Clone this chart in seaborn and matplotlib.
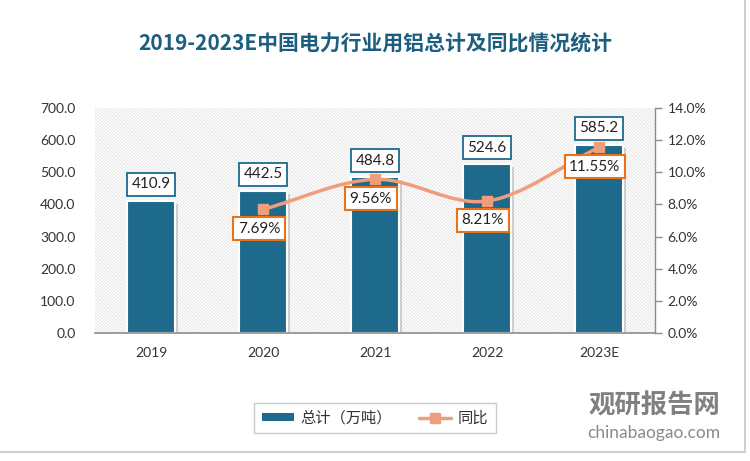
import numpy as np
import pandas as pd
import matplotlib
matplotlib.use("Agg")
import matplotlib.pyplot as plt
import matplotlib.patheffects as pe
from matplotlib.path import Path
from matplotlib.patches import PathPatch, Rectangle, Patch
from matplotlib.lines import Line2D
from matplotlib.ticker import FuncFormatter, MultipleLocator
import seaborn as sns

years = ["2019", "2020", "2021", "2022", "2023E"]
totals = [410.9, 442.5, 484.8, 524.6, 585.2]
growth_years = ["2020", "2021", "2022", "2023E"]
growth = [7.69, 9.56, 8.21, 11.55]

bar_color = "#1D6A8C"
line_color = "#EE9E7B"
label_orange = "#E8731A"
title_color = "#1B5E80"

sns.set_theme(style="white")
plt.rcParams["font.family"] = ["Lato", "Noto Sans CJK SC", "DejaVu Sans"]
plt.rcParams["hatch.color"] = "#E0E0E0"
plt.rcParams["hatch.linewidth"] = 0.6

fig = plt.figure(figsize=(7.5, 4.61), dpi=100)
fig.patch.set_facecolor("white")
ax = fig.add_axes([0.1267, 0.2777, 0.7466, 0.488])

# hatched plot background
ax.add_patch(Rectangle((0, 0), 1, 1, transform=ax.transAxes, facecolor="white",
                       edgecolor="#E0E0E0", hatch="\\" * 10, lw=0, zorder=0))

df = pd.DataFrame({"year": years, "total": totals})
sns.barplot(data=df, x="year", y="total", color=bar_color, width=0.43,
            edgecolor="white", linewidth=1.5, saturation=1, ax=ax, zorder=2)
for p in ax.patches[1:]:
    p.set_path_effects([pe.SimplePatchShadow(offset=(2, -2), shadow_rgbFace="#888888", alpha=0.35),
                        pe.Normal()])

ax.set_ylim(0, 700)
ax.set_xlim(-0.5, 4.5)
ax.yaxis.set_major_locator(MultipleLocator(100))
ax.yaxis.set_major_formatter(FuncFormatter(lambda v, _: f"{v:.1f}"))
ax.set_xlabel("")
ax.set_ylabel("")
ax.tick_params(axis="y", length=0, labelsize=10, colors="#333333", pad=14)
ax.tick_params(axis="x", length=0, labelsize=10, colors="#333333", pad=10)
for s in ["top", "right", "left"]:
    ax.spines[s].set_visible(False)
ax.spines["bottom"].set_color("#8C8C8C")
ax.spines["bottom"].set_linewidth(1.2)

for i, v in enumerate(totals):
    ax.annotate(f"{v:.1f}", (i, v), xytext=(0, 12), textcoords="offset points",
                ha="center", va="center", fontsize=11, color="#222222", zorder=6,
                bbox=dict(boxstyle="square,pad=0.3", fc="white", ec=bar_color, lw=1.3))

ax2 = ax.twinx()
ax2.set_ylim(0, 14)
ax2.yaxis.set_major_locator(MultipleLocator(2))
ax2.yaxis.set_major_formatter(FuncFormatter(lambda v, _: f"{v:.1f}%"))
ax2.tick_params(axis="y", length=5, width=1, colors="#8C8C8C", labelcolor="#333333",
                labelsize=10, direction="out", pad=4)
for s in ["top", "left", "bottom"]:
    ax2.spines[s].set_visible(False)
ax2.spines["right"].set_color("#8C8C8C")
ax2.spines["right"].set_linewidth(1.0)

# smooth line (Catmull-Rom as cubic bezier segments)
gx = np.array([years.index(y) for y in growth_years], dtype=float)
gy = np.array(growth, dtype=float)
pts = np.column_stack([gx, gy])
ext = np.vstack([pts[0] - (pts[1] - pts[0]), pts, pts[-1] + (pts[-1] - pts[-2])])
verts = [tuple(pts[0])]
codes = [Path.MOVETO]
for k in range(1, len(ext) - 2):
    p0, p1, p2, p3 = ext[k - 1], ext[k], ext[k + 1], ext[k + 2]
    c1 = p1 + (p2 - p0) / 6
    c2 = p2 - (p3 - p1) / 6
    verts += [tuple(c1), tuple(c2), tuple(p2)]
    codes += [Path.CURVE4] * 3
ax2.add_patch(PathPatch(Path(verts, codes), fc="none", ec=line_color, lw=2.5, zorder=3))
ax2.plot(gx, gy, ls="none", marker="s", ms=7, color=line_color, zorder=4)

for x, v in zip(gx, gy):
    ax2.annotate(f"{v:.2f}%", (x, v), xytext=(-3, -14), textcoords="offset points",
                 ha="center", va="center", fontsize=11, color="#222222", zorder=6,
                 bbox=dict(boxstyle="square,pad=0.3", fc="white", ec=label_orange, lw=1.5))

# legend
handles = [Patch(fc=bar_color, ec="none"),
           Line2D([0], [0], color=line_color, lw=2.5, marker="s", ms=7)]
leg = fig.legend(handles, ["总计（万吨）", "同比"], loc="center", ncol=2,
                 bbox_to_anchor=(0.5, 0.093), frameon=True, fontsize=11,
                 handlelength=2.1, handleheight=0.45, handletextpad=0.4,
                 columnspacing=1.8, borderpad=0.5, borderaxespad=0, fancybox=False)
leg.get_frame().set_edgecolor("#BFBFBF")
leg.get_frame().set_linewidth(1.0)
for t in leg.get_texts():
    t.set_color("#333333")

fig.text(0.5, 0.905, "2019-2023E中国电力行业用铝总计及同比情况统计", ha="center", va="center",
         fontsize=15, color=title_color, fontweight="bold",
         family=["Noto Sans CJK SC", "DejaVu Sans"])

# watermark
fig.text(0.873, 0.12, "观研报告网", ha="center", va="center", fontsize=19, color="#808080",
         fontweight="bold", family=["Noto Sans CJK SC"])
fig.text(0.872, 0.06, "chinabaogao.com", ha="center", va="center", fontsize=12.5, color="#8A8A8A")

# card border
fig.add_artist(Rectangle((-0.01, 0.02), 1.003, 1.1, transform=fig.transFigure, fill=False,
                         ec="#D0D0D0", lw=1.5))

fig.savefig("out.png", dpi=100)
